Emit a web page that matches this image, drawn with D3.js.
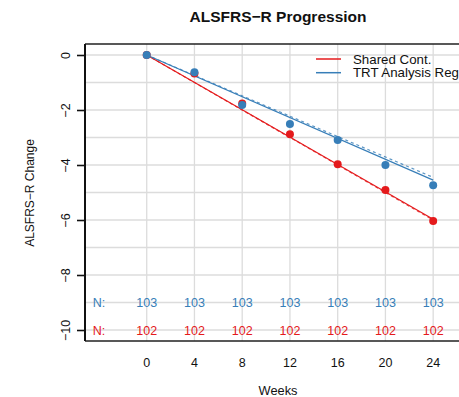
<!DOCTYPE html>
<html><head><meta charset="utf-8">
<script src="https://cdn.jsdelivr.net/npm/d3@7"></script>
<style>body{margin:0;background:#fff;} svg{display:block;font-family:"Liberation Sans",Arial,sans-serif;}</style>
</head><body>
<script>
const weeks = [0, 4, 8, 12, 16, 20, 24];
const sharedMeans = [0, -0.67, -1.76, -2.88, -3.97, -4.91, -6.04];
const trtMeans = [0, -0.63, -1.82, -2.51, -3.09, -4.00, -4.74];
const sharedFit = [0, -5.97];      // solid fitted line, weeks 0 and 24
const sharedFitAlt = [0, -6.00];   // dashed fitted line
const trtFit = [0, -4.55];
const trtFitAlt = [0, -4.45];
const sharedN = [102, 102, 102, 102, 102, 102, 102];
const trtN = [103, 103, 103, 103, 103, 103, 103];
const yTicks = [0, -2, -4, -6, -8, -10];
const legendLabels = ["Shared Cont.", "TRT Analysis Regimen"];
const red = "#E41A1C", blue = "#377EB8";

const W = 459, H = 397;
const svg = d3.select("body").append("svg").attr("width", W).attr("height", H);
const x = d3.scaleLinear().domain([-5.17, 26.75]).range([85, 466]);
const y = d3.scaleLinear().domain([-10.4, 0.4]).range([341, 44]);

// grid
svg.append("g").selectAll("line").data(d3.range(-10, 1, 1)).join("line")
  .attr("x1", x(-5.17)).attr("x2", W).attr("y1", d => y(d)).attr("y2", d => y(d))
  .attr("stroke", "#DCDCDC").attr("stroke-width", 1.3);
svg.append("g").selectAll("line").data(weeks).join("line")
  .attr("x1", d => x(d)).attr("x2", d => x(d)).attr("y1", y(0.4)).attr("y2", y(-10.4))
  .attr("stroke", "#DCDCDC").attr("stroke-width", 1.3);

// frame (top + bottom)
svg.append("path").attr("d", `M${W},${y(0.4)}H${x(-5.17)}M${x(-5.17)},${y(-10.4)}H${W}`)
  .attr("fill", "none").attr("stroke", "#222").attr("stroke-width", 1.5);
// left axis line
svg.append("line").attr("x1", x(-5.17)).attr("x2", x(-5.17)).attr("y1", y(0.4)).attr("y2", y(-10.4))
  .attr("stroke", "#111").attr("stroke-width", 2);

// y axis
const yAx = svg.append("g").attr("transform", `translate(${x(-5.17)},0)`)
  .call(d3.axisLeft(y).tickValues(yTicks).tickSize(8).tickFormat(d => d === 0 ? "0" : "\u2212" + Math.abs(d)));
yAx.select(".domain").remove();
yAx.selectAll(".tick line").attr("stroke", "#111").attr("stroke-width", 1.6);
yAx.selectAll(".tick text").attr("font-size", 12.5).attr("fill", "#111").attr("font-family", null)
  .attr("x", null).attr("dy", null).attr("text-anchor", "middle")
  .attr("transform", "translate(-19,0) rotate(-90)").attr("dominant-baseline", "central");

// x tick labels
svg.append("g").selectAll("text").data(weeks).join("text")
  .attr("x", d => x(d)).attr("y", 367).attr("text-anchor", "middle")
  .attr("font-size", 12.5).attr("fill", "#111").text(d => d);

// fit lines
function fit(vals, color, dash) {
  svg.append("line").attr("x1", x(0)).attr("y1", y(vals[0])).attr("x2", x(24)).attr("y2", y(vals[1]))
    .attr("stroke", color).attr("stroke-width", 1.2).attr("stroke-dasharray", dash ? "3,3" : null)
    .attr("opacity", dash ? 0.8 : 1);
}
fit(sharedFitAlt, red, true);
fit(sharedFit, red, false);
fit(trtFitAlt, blue, true);
fit(trtFit, blue, false);

// points
svg.append("g").selectAll("circle").data(weeks.map((w, i) => [w, sharedMeans[i]])).join("circle")
  .attr("cx", d => x(d[0])).attr("cy", d => y(d[1])).attr("r", 4).attr("fill", red);
svg.append("g").selectAll("circle").data(weeks.map((w, i) => [w, trtMeans[i]])).join("circle")
  .attr("cx", d => x(d[0])).attr("cy", d => y(d[1])).attr("r", 4).attr("fill", blue);

// N rows
const nRows = [[trtN, blue, -9], [sharedN, red, -10]];
nRows.forEach(([arr, c, v]) => {
  svg.append("text").attr("x", x(-4)).attr("y", y(v)).attr("dy", "0.36em").attr("text-anchor", "middle")
    .attr("font-size", 12.5).attr("fill", c).text("N:");
  svg.append("g").selectAll("text").data(arr).join("text")
    .attr("x", (d, i) => x(weeks[i])).attr("y", y(v)).attr("dy", "0.36em").attr("text-anchor", "middle")
    .attr("font-size", 12.5).attr("fill", c).text(d => d);
});

// legend
[[legendLabels[0], red, 59], [legendLabels[1], blue, 72.7]].forEach(([t, c, yy]) => {
  svg.append("line").attr("x1", 316).attr("x2", 341).attr("y1", yy).attr("y2", yy)
    .attr("stroke", c).attr("stroke-width", 1.5);
  svg.append("text").attr("x", 353).attr("y", yy).attr("dy", "0.36em").attr("font-size", 13.3)
    .attr("fill", "#111").text(t);
});

// title and axis labels
svg.append("text").attr("x", 278).attr("y", 16).attr("dy", "0.36em").attr("text-anchor", "middle")
  .attr("font-size", 15.5).attr("font-weight", "bold").attr("fill", "#111").text("ALSFRS\u2212R Progression");
svg.append("text").attr("x", 278).attr("y", 390).attr("dy", "0.36em").attr("text-anchor", "middle")
  .attr("font-size", 12.8).attr("fill", "#111").text("Weeks");
svg.append("text").attr("transform", "translate(30,193) rotate(-90)").attr("dy", "0.36em")
  .attr("text-anchor", "middle").attr("font-size", 12).attr("fill", "#111").text("ALSFRS\u2212R Change");
</script>
</body></html>
